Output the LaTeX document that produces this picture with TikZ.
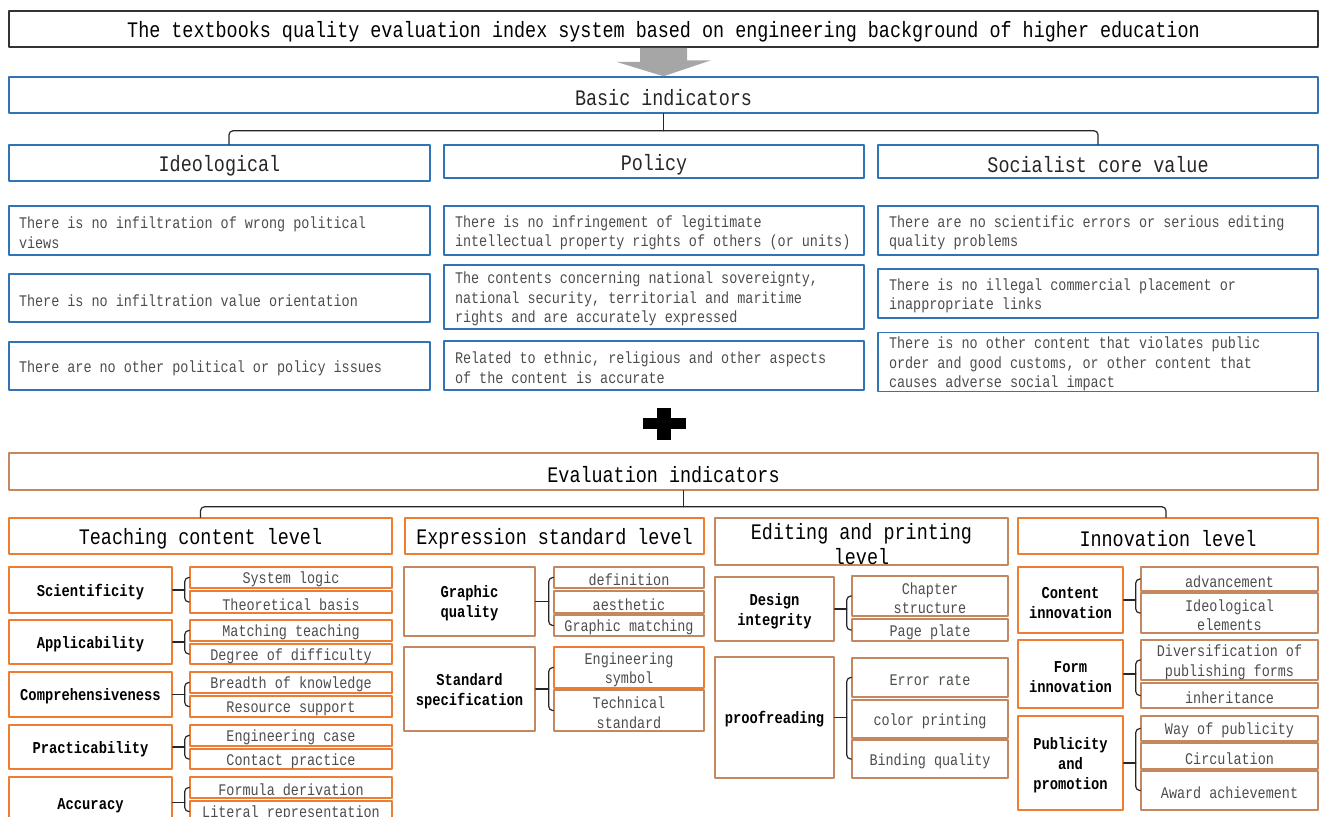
\documentclass[tikz,border=0pt]{standalone}
\usepackage{fontspec}
\setmainfont{Liberation Mono}[FakeStretch=0.83]
\definecolor{boxblue}{RGB}{46,117,182}
\definecolor{boxorange}{RGB}{237,125,49}
\definecolor{boxbrown}{RGB}{197,135,95}
\definecolor{arrowgray}{RGB}{166,166,166}
\begin{document}
\begin{tikzpicture}[x=0.5pt,y=-0.5pt,line cap=round,line join=round,
	cell/.style n args={4}{at={({(#1+#3)/2},{(#2+#4)/2})},minimum width={(#3-#1)*0.5pt},minimum height={(#4-#2)*0.5pt},text width={(#3-#1)*0.5pt}},
	box/.style={inner sep=0pt,line width=.75pt,align=center,execute at begin node={\spaceskip=\fontdimen2\font\relax}},
	blu/.style={box,draw=boxblue,text=black!85},
	org/.style={box,draw=boxorange},
	brn/.style={box,draw=boxbrown},
	big/.style={font=\fontsize{11.1}{12.5}\selectfont,text height=11pt},
	small/.style={font=\fontsize{8.1}{9.75}\selectfont,text=black!70,text height=8.1pt},
	bold/.style={font=\fontsize{8.3}{10}\selectfont\bfseries,text=black,text height=8.2pt},
	para/.style={align=left,text width=#1},
	link/.style={line width=.6pt,black!85,rounded corners=2pt}]
	\useasboundingbox (0,0) rectangle (1320,816);
	\clip (0,0) rectangle (1320,816);
	% basic part
	\node[box,draw=black!80,big,text=black,cell={9}{11}{1318}{47}] (title) {The textbooks quality evaluation index system based on engineering background of higher education};
	\node[blu,big,cell={9}{77}{1318}{113}] (basic) {Basic indicators};
	\fill[arrowgray] ([xshift=-11.75pt]title.south) -- ++(0,14) -- ++(-24,0) -- (basic.north) -- ++(47.5,-16) -- ++(-24,0) -- ([xshift=11.75pt]title.south) -- cycle;
	\node[blu,big,cell={9}{145}{430}{181}] (ideo) {Ideological};
	\node[blu,big,cell={444}{145}{864}{178}] (poli) {Policy};
	\node[blu,big,cell={878}{145}{1318}{178}] (soc) {Socialist core value};
	\draw[link] (basic.south) -- ++(0,17) coordinate (bj);
	\draw[link] ([xshift=4.75pt]ideo.north) |- (bj) -| (soc.north);
	\node[blu,small,cell={9}{206}{430}{255},para=200.5pt] (ideo1) {There is no infiltration of wrong political\\views};
	\node[blu,small,cell={9}{274}{430}{322},para=200.5pt] (ideo2) {There is no infiltration value orientation};
	\node[blu,small,cell={9}{342}{430}{390},para=200.5pt] (ideo3) {There are no other political or policy issues};
	\node[blu,small,cell={444}{206}{864}{255},para=199pt] (poli1) {There is no infringement of legitimate\\intellectual property rights of others (or units)};
	\node[blu,small,cell={444}{265}{864}{329},para=199pt] (poli2) {The contents concerning national sovereignty,\\national security, territorial and maritime\\rights and are accurately expressed};
	\node[blu,small,cell={444}{341}{864}{390},para=199pt] (poli3) {Related to ethnic, religious and other aspects\\of the content is accurate};
	\node[blu,small,cell={878}{206}{1318}{255},para=209pt] (soc1) {There are no scientific errors or serious editing\\quality problems};
	\node[blu,small,cell={878}{269}{1318}{318},para=209pt] (soc2) {There is no illegal commercial placement or\\inappropriate links};
	\node[blu,small,cell={878}{334}{1318}{390},para=209pt] (soc3) {There is no other content that violates public\\order and good customs, or other content that\\causes adverse social impact};
	% plus
	\fill (657,408) rectangle (671,440);
	\fill (643,418) rectangle (686,429);
	% evaluation part
	\node[brn,big,cell={9}{453}{1318}{490}] (eval) {Evaluation indicators};
	\node[org,big,cell={9}{518}{392}{554}] (teach) {Teaching content level};
	\node[org,big,cell={405}{518}{704}{554}] (expr) {Expression standard level};
	\node[brn,big,cell={715}{518}{1008}{565}] (edit) {Editing and printing\\level};
	\node[org,big,cell={1018}{518}{1318}{554}] (inno) {Innovation level};
	\draw[link] ([xshift=10pt]eval.south) -- ++(0,16) coordinate (ej);
	\draw[link] (teach.north) |- (ej) -| ([xshift=-1pt]inno.north);
	% teaching content
	\node[org,bold,cell={9}{567}{172}{613}] (sci) {Scientificity};
	\node[org,bold,cell={9}{620}{172}{664}] (app) {Applicability};
	\node[org,bold,cell={9}{672}{172}{717}] (comp) {Comprehensiveness};
	\node[org,bold,cell={9}{725}{172}{769}] (prac) {Practicability};
	\node[org,bold,cell={9}{777}{172}{828}] (acc) {Accuracy};
	\node[org,small,cell={190}{567}{392}{588}] (sl) {System logic};
	\node[org,small,cell={190}{591}{392}{613}] (tb) {Theoretical basis};
	\node[org,small,cell={190}{620}{392}{641}] (mt) {Matching teaching};
	\node[org,small,cell={190}{644}{392}{664}] (dd) {Degree of difficulty};
	\node[org,small,cell={190}{672}{392}{693}] (bk) {Breadth of knowledge};
	\node[org,small,cell={190}{696}{392}{717}] (rs) {Resource support};
	\node[org,small,cell={190}{725}{392}{746}] (ec) {Engineering case};
	\node[org,small,cell={190}{749}{392}{769}] (cp) {Contact practice};
	\node[org,small,cell={190}{777}{392}{798}] (fd) {Formula derivation};
	\node[org,small,cell={190}{801}{392}{822}] (lr) {Literal representation};
	\draw[link] (sci.east) -- ++(12,0) coordinate (j1);
	\draw[link] (sl.west) -| (j1 |- tb.west) -- (tb.west);
	\draw[link] (app.east) -- ++(12,0) coordinate (j2);
	\draw[link] (mt.west) -| (j2 |- dd.west) -- (dd.west);
	\draw[link] (comp.east) -- ++(12,0) coordinate (j3);
	\draw[link] (bk.west) -| (j3 |- rs.west) -- (rs.west);
	\draw[link] (prac.east) -- ++(12,0) coordinate (j4);
	\draw[link] (ec.west) -| (j4 |- cp.west) -- (cp.west);
	\draw[link] (acc.east) -- ++(12,0) coordinate (j5);
	\draw[link] (fd.west) -| (j5 |- lr.west) -- (lr.west);
	% expression standard
	\node[brn,bold,cell={404}{567}{535}{636}] (gq) {Graphic\\quality};
	\node[brn,bold,cell={404}{647}{535}{731}] (ss) {Standard\\specification};
	\node[brn,small,cell={554}{567}{704}{588}] (def) {definition};
	\node[brn,small,cell={554}{591}{704}{613}] (aes) {aesthetic};
	\node[brn,small,cell={554}{615}{704}{636}] (gm) {Graphic matching};
	\node[org,small,cell={554}{647}{704}{688}] (es) {Engineering\\symbol};
	\node[brn,small,cell={554}{690}{704}{731}] (ts) {Technical\\standard};
	\draw[link] (gq.east) -- ++(13,0) coordinate (j6);
	\draw[link] (def.west) -| (j6 |- gm.west) -- (gm.west);
	\draw[link] (ss.east) -- ++(13,0) coordinate (j7);
	\draw[link] (es.west) -| (j7 |- ts.west) -- (ts.west);
	% editing and printing
	\node[brn,bold,cell={715}{577}{834}{641}] (di) {Design\\integrity};
	\node[brn,bold,cell={715}{657}{834}{778}] (pr) {proofreading};
	\node[brn,small,cell={852}{576}{1008}{616}] (cs) {Chapter\\structure};
	\node[brn,small,cell={852}{619}{1008}{641}] (pp) {Page plate};
	\node[brn,small,cell={852}{658}{1008}{697}] (er) {Error rate};
	\node[brn,small,cell={852}{700}{1008}{738}] (cpr) {color printing};
	\node[brn,small,cell={852}{740}{1008}{778}] (bq) {Binding quality};
	\draw[link] (di.east) -- ++(12,0) coordinate (j8);
	\draw[link] (cs.west) -| (j8 |- pp.west) -- (pp.west);
	\draw[link] (pr.east) -- ++(12,0) coordinate (j9);
	\draw[link] (er.west) -| (j9 |- bq.west) -- (bq.west);
	% innovation
	\node[org,bold,cell={1018}{567}{1123}{633}] (ci) {Content\\innovation};
	\node[org,bold,cell={1018}{640}{1123}{708}] (fi) {Form\\innovation};
	\node[org,bold,cell={1018}{716}{1123}{810}] (pub) {Publicity\\and\\promotion};
	\node[brn,small,cell={1141}{567}{1318}{591}] (adv) {advancement};
	\node[brn,small,cell={1141}{593}{1318}{633}] (ie) {Ideological\\elements};
	\node[brn,small,cell={1141}{640}{1318}{680}] (dpf) {Diversification of\\publishing forms};
	\node[brn,small,cell={1141}{683}{1318}{708}] (inh) {inheritance};
	\node[brn,small,cell={1141}{716}{1318}{741}] (wp) {Way of publicity};
	\node[brn,small,cell={1141}{743}{1318}{769}] (circ) {Circulation};
	\node[brn,small,cell={1141}{771}{1318}{810}] (aa) {Award achievement};
	\draw[link] (ci.east) -- ++(12,0) coordinate (j10);
	\draw[link] (adv.west) -| (j10 |- ie.west) -- (ie.west);
	\draw[link] (fi.east) -- ++(12,0) coordinate (j11);
	\draw[link] (dpf.west) -| (j11 |- inh.west) -- (inh.west);
	\draw[link] (pub.east) -- ++(12,0) coordinate (j12);
	\draw[link] (wp.west) -| (j12 |- aa.west) -- (aa.west);
\end{tikzpicture}
\end{document}
